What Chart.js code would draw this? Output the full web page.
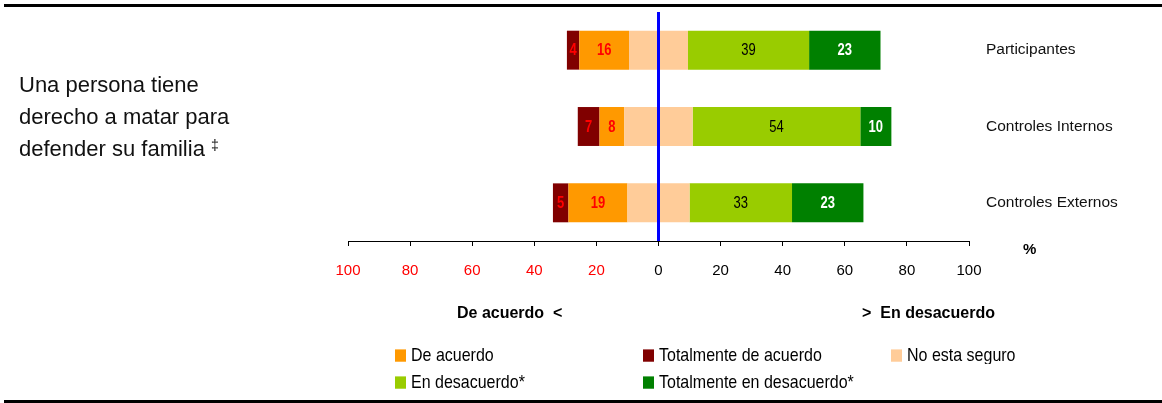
<!DOCTYPE html>
<html>
<head>
<meta charset="utf-8">
<script src="https://cdn.jsdelivr.net/npm/chart.js@4"></script>
<style>
  body { margin: 0; background: #fff; overflow: hidden; }
  #wrap { position: relative; width: 1162px; height: 403px; }
  #c { position: absolute; left: 0; top: 0; }
  .rule { position: absolute; left: 4px; width: 1158px; height: 3px; background: #000; }
  .txt { position: absolute; white-space: nowrap; color: #000; }
  #title { left: 19px; top: 69px; font: 22px "Liberation Sans", Arial, sans-serif; line-height: 32px; color: #111; }
  #title sup { font-size: 14px; vertical-align: 6px; line-height: 0; }
  .side { font: bold 16px "Liberation Sans", Arial, sans-serif; top: 304px; }
  .leg { position: absolute; height: 22px; display: flex; align-items: center; white-space: nowrap;
         font: 16px "Liberation Sans", Arial, sans-serif; color: #000; transform: scaleY(1.12); transform-origin: left center; }
  .leg i { display: inline-block; width: 11px; height: 11px; margin-right: 5px; }
</style>
</head>
<body>
<div id="wrap">
  <canvas id="c" width="1162" height="403"></canvas>
  <div class="rule" style="top:4px"></div>
  <div class="rule" style="top:400px"></div>
  <div id="title" class="txt">Una persona tiene<br>derecho a matar para<br>defender su familia <sup>‡</sup></div>
  <div class="txt" style="left:1023px;top:240px;font:bold 15px 'Liberation Sans',sans-serif">%</div>
  <div class="txt side" style="left:457px">De acuerdo &nbsp;&lt;</div>
  <div class="txt side" style="left:862px">&gt; &nbsp;En desacuerdo</div>
  <div id="legend"></div>
</div>
<script>
  "use strict";

  // Data (percentages)
  const categories = ["Participantes", "Controles Internos", "Controles Externos"];
  const totalAcuerdo = [4, 7, 5];
  const deAcuerdo = [16, 8, 19];
  const noSeguro = [19, 22, 20];          // split half each side of 0
  const enDesacuerdo = [39, 54, 33];
  const totalDesacuerdo = [23, 10, 23];
  const xTicks = [-100, -80, -60, -40, -20, 0, 20, 40, 60, 80, 100];

  const legendLabels = ["De acuerdo", "Totalmente de acuerdo", "No esta seguro", "En desacuerdo*", "Totalmente en desacuerdo*"];
  const legendColors = ["#FF9900", "#800000", "#FFCC99", "#99CC00", "#008000"];

  const FONT = '"Liberation Sans", Arial, sans-serif';

  // legend: 3 columns x 2 rows
  const legCols = [395, 643, 891];
  const legRows = [344, 371];
  const legendEl = document.getElementById("legend");
  legendLabels.forEach((label, i) => {
    const d = document.createElement("div");
    d.className = "leg";
    d.style.left = legCols[i % 3] + "px";
    d.style.top = legRows[Math.floor(i / 3)] + "px";
    d.innerHTML = '<i style="background:' + legendColors[i] + '"></i>' + label;
    legendEl.appendChild(d);
  });

  const neg = (arr) => arr.map((v) => -v);

  const datasets = [
    { label: "No esta seguro", data: noSeguro.map((v) => -v / 2), backgroundColor: "#FFCC99" },
    { label: "No esta seguro", data: noSeguro.map((v) => v / 2), backgroundColor: "#FFCC99" },
    { label: "De acuerdo", data: neg(deAcuerdo), backgroundColor: "#FF9900", labelColor: "#FF0000", labelBold: true },
    { label: "En desacuerdo*", data: enDesacuerdo, backgroundColor: "#99CC00", labelColor: "#000000", labelBold: false },
    { label: "Totalmente de acuerdo", data: neg(totalAcuerdo), backgroundColor: "#800000", labelColor: "#FF0000", labelBold: true },
    { label: "Totalmente en desacuerdo*", data: totalDesacuerdo, backgroundColor: "#008000", labelColor: "#FFFFFF", labelBold: true },
  ];
  datasets.forEach((d) => { d.borderWidth = 0; d.barPercentage = 0.51; d.categoryPercentage = 1; });

  const barLabels = {
    id: "barLabels",
    afterDatasetsDraw(chart) {
      const ctx = chart.ctx;
      ctx.save();
      ctx.textAlign = "center";
      ctx.textBaseline = "middle";
      chart.data.datasets.forEach((ds, di) => {
        if (!ds.labelColor) return;
        chart.getDatasetMeta(di).data.forEach((bar, i) => {
          const cx = (bar.x + bar.base) / 2;
          ctx.save();
          ctx.translate(cx, bar.y + 1);
          ctx.scale(1, 1.2);
          ctx.fillStyle = ds.labelColor;
          ctx.font = (ds.labelBold ? "bold " : "") + "13px " + FONT;
          ctx.fillText(String(Math.abs(ds.data[i])), 0, 0);
          ctx.restore();
        });
      });
      ctx.restore();
    },
  };

  new Chart(document.getElementById("c").getContext("2d"), {
    type: "bar",
    data: { labels: categories, datasets },
    plugins: [barLabels],
    options: {
      responsive: false,
      animation: false,
      indexAxis: "y",
      layout: { padding: { left: 348, top: 12, right: 0, bottom: 0 } },
      plugins: { legend: { display: false }, tooltip: { enabled: false } },
      scales: {
        x: {
          stacked: true,
          min: -100,
          max: 100,
          afterBuildTicks: (s) => { s.ticks = xTicks.map((v) => ({ value: v })); },
          afterFit: (s) => { s.height = 162; },
          grid: {
            z: 1,
            drawOnChartArea: true,
            color: (c) => (c.tick && c.tick.value === 0 ? "#0000FF" : "rgba(0,0,0,0)"),
            lineWidth: (c) => (c.tick && c.tick.value === 0 ? 3 : 1),
            tickColor: "#000",
            tickWidth: 1,
            tickLength: 5,
          },
          border: { display: true, color: "#000", width: 1, z: 2 },
          ticks: {
            padding: 16,
            maxRotation: 0,
            font: { family: FONT, size: 15 },
            color: (c) => (c.tick && c.tick.value < 0 ? "#FF0000" : "#000"),
            callback: (v) => String(Math.abs(v)),
          },
        },
        y: {
          stacked: true,
          position: "right",
          afterFit: (s) => { s.width = 193; s.paddingTop = 0; s.paddingBottom = 0; },
          grid: { display: false, drawTicks: false },
          border: { display: false },
          ticks: {
            padding: 17,
            color: "#111",
            font: { family: FONT, size: 15.5 },
          },
        },
      },
    },
  });
</script>
</body>
</html>
